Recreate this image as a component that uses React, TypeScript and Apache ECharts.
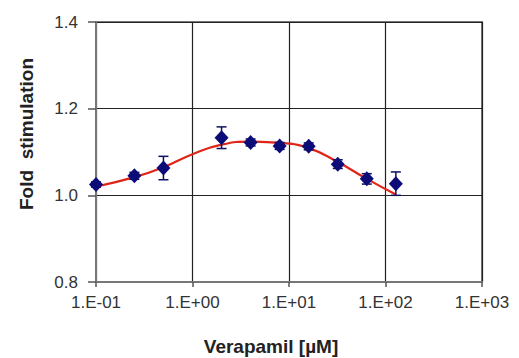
import React, { useEffect, useRef } from "react";
import * as echarts from "echarts";

const concentrations = [0.1, 0.25, 0.5, 2, 4, 8, 16, 32, 64, 128];
const foldValues = [1.025, 1.045, 1.063, 1.133, 1.122, 1.114, 1.113, 1.072, 1.038, 1.027];
const foldErrors = [0.006, 0.008, 0.027, 0.025, 0.008, 0.008, 0.008, 0.01, 0.012, 0.027];

const fitX = [0.1, 0.25, 0.5, 1, 2, 4, 8, 16, 32, 64, 128];
const fitY = [1.02, 1.042, 1.065, 1.095, 1.117, 1.124, 1.121, 1.109, 1.077, 1.038, 1.002];

const xTickValues = [0.1, 1, 10, 100, 1000];
const xTickLabels = ["1.E-01", "1.E+00", "1.E+01", "1.E+02", "1.E+03"];
const yTickLabels = ["0.8", "1.0", "1.2", "1.4"];

const xTitle = "Verapamil [µM]";
const yTitle = "Fold  stimulation";

export default function App() {
  const ref = useRef<HTMLDivElement>(null);
  useEffect(() => {
    if (!ref.current) return;
    const chart = echarts.init(ref.current, null, { renderer: "svg" });
    const font = "Arial, 'Liberation Sans', sans-serif";
    chart.setOption({
      animation: false,
      backgroundColor: "#ffffff",
      grid: { left: 96, right: 37, top: 22, bottom: 76, show: true, borderColor: "#777", borderWidth: 2 },
      graphic: [
        {
          type: "text",
          x: 26,
          y: 134,
          rotation: Math.PI / 2,
          style: {
            text: yTitle,
            fontFamily: font,
            fontWeight: "bold",
            fontSize: 19,
            fill: "#222",
            align: "center",
            verticalAlign: "middle",
          },
        },
        {
          type: "text",
          x: 271,
          y: 346,
          style: {
            text: xTitle,
            fontFamily: font,
            fontWeight: "bold",
            fontSize: 19,
            fill: "#222",
            align: "center",
            verticalAlign: "middle",
          },
        },
      ],
      xAxis: {
        type: "log",
        logBase: 10,
        min: 0.1,
        max: 1000,
        axisLine: { show: true, lineStyle: { color: "#777", width: 2 } },
        axisTick: { show: true, length: 5, inside: false, lineStyle: { color: "#555", width: 1.5 } },
        splitLine: { show: true, lineStyle: { color: "#222", width: 1.2 } },
        minorTick: { show: false },
        axisLabel: {
          fontFamily: font,
          fontSize: 17,
          color: "#333",
          margin: 12,
          formatter: (v: number) => {
            const i = xTickValues.findIndex((t) => Math.abs(Math.log10(t) - Math.log10(v)) < 1e-6);
            return i >= 0 ? xTickLabels[i] : "";
          },
        },
      },
      yAxis: {
        type: "value",
        min: 0.8,
        max: 1.4,
        interval: 0.2,
        axisLine: { show: true, lineStyle: { color: "#777", width: 2 } },
        axisTick: { show: true, length: 8, inside: false, lineStyle: { color: "#555", width: 1.5 } },
        splitLine: { show: true, lineStyle: { color: "#222", width: 1.2 } },
        axisLabel: {
          fontFamily: font,
          fontSize: 17,
          color: "#333",
          margin: 18,
          formatter: (v: number) => {
            const i = Math.round((v - 0.8) / 0.2);
            return yTickLabels[i] ?? "";
          },
        },
      },
      series: [
        {
          type: "line",
          data: fitX.map((x, i) => [x, fitY[i]]),
          smooth: 0.5,
          showSymbol: false,
          lineStyle: { color: "#e02418", width: 2.2 },
          z: 2,
        },
        {
          type: "custom",
          data: concentrations.map((x, i) => [x, foldValues[i], foldErrors[i]]),
          renderItem: (params: any, api: any) => {
            const x = api.value(0);
            const y = api.value(1);
            const e = api.value(2);
            const top = api.coord([x, y + e]);
            const bot = api.coord([x, y - e]);
            const w = 5;
            const style = { stroke: "#101060", lineWidth: 1.5 };
            return {
              type: "group",
              children: [
                { type: "line", shape: { x1: top[0], y1: top[1], x2: bot[0], y2: bot[1] }, style },
                { type: "line", shape: { x1: top[0] - w, y1: top[1], x2: top[0] + w, y2: top[1] }, style },
                { type: "line", shape: { x1: bot[0] - w, y1: bot[1], x2: bot[0] + w, y2: bot[1] }, style },
              ],
            };
          },
          z: 3,
        },
        {
          type: "scatter",
          data: concentrations.map((x, i) => [x, foldValues[i]]),
          symbol: "diamond",
          symbolSize: [14, 15],
          itemStyle: { color: "#0c0c78", opacity: 1 },
          z: 4,
        },
      ],
    });
    return () => chart.dispose();
  }, []);
  return <div ref={ref} style={{ width: 519, height: 358, margin: "-8px 0 0 -8px" }} />;
}
